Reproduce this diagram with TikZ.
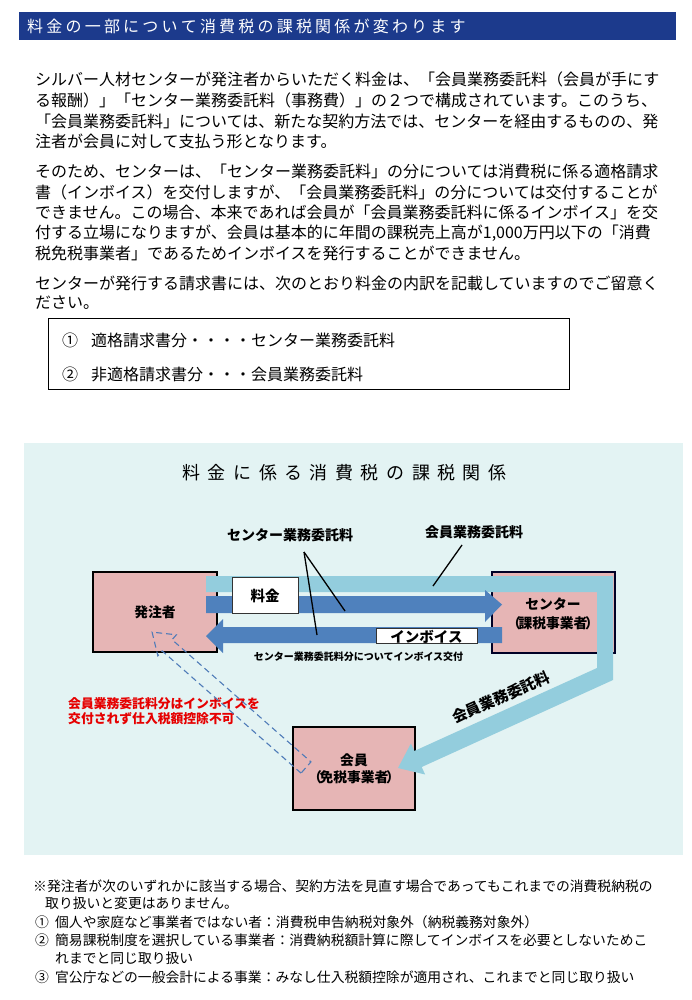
\documentclass[tikz,border=0pt]{standalone}
\usepackage{fontspec}
\setmainfont{Noto Sans CJK JP}
\usetikzlibrary{calc}
\definecolor{navy}{HTML}{1C3A8C}
\definecolor{bgcyan}{HTML}{E3F3F3}
\definecolor{pinkbox}{HTML}{E6B5B5}
\definecolor{darkarrow}{HTML}{4F81BD}
\definecolor{lightarrow}{HTML}{93CDDD}
\definecolor{redtext}{HTML}{E60000}
\definecolor{dashblue}{HTML}{4F7BB8}
\makeatletter
\newcommand\spacedtext[2]{\def\sp@k{#1}\sp@first#2\relax}
\def\sp@first#1{\ifx\relax#1\else#1\expandafter\sp@next\fi}
\def\sp@next#1{\ifx\relax#1\else\kern\sp@k\relax#1\expandafter\sp@next\fi}
\makeatother
\begin{document}
\begin{tikzpicture}[x=1pt,y=-1pt,
  body/.style={anchor=west, inner sep=0pt, font=\fontsize{16}{16}\selectfont},
  foot/.style={anchor=west, inner sep=0pt, font=\fontsize{13.8}{14}\selectfont},
  party/.style={draw=black, line width=1.6pt, fill=pinkbox, align=center, inner sep=0pt,
    font=\bfseries\fontsize{13.8}{17}\selectfont},
  lbl/.style={inner sep=0pt, font=\bfseries\fontsize{14}{14}\selectfont},
  tag/.style={fill=white, draw=black!80, line width=0.8pt, inner sep=0pt},
  pointer/.style={draw=black, line width=1.3pt},
]
\useasboundingbox (0,0) rectangle (692,1000);
\fill[white] (0,0) rectangle (692,1000);

% header
\node[fill=navy, anchor=north west, minimum width=657pt, minimum height=28pt, inner sep=0pt] (header) at (19,12) {};
\node[anchor=west, inner sep=0pt, text=white, font=\fontsize{16}{16}\selectfont] (htitle) at (27,26.5)
  {\spacedtext{3.2pt}{料金の一部について消費税の課税関係が変わります}};

% paragraph 1
\node[body] (p1a) at (35,79) {シルバー人材センターが発注者からいただく料金は、「会員業務委託料（会員が手にす};
\node[body] (p1b) at (35,100) {る報酬）」「センター業務委託料（事務費）」の２つで構成されています。このうち、};
\node[body] (p1c) at (35,121) {「会員業務委託料」については、新たな契約方法では、センターを経由するものの、発};
\node[body] (p1d) at (35,141.5) {注者が会員に対して支払う形となります。};
% paragraph 2
\node[body] (p2a) at (35,171.5) {そのため、センターは、「センター業務委託料」の分については消費税に係る適格請求};
\node[body] (p2b) at (35,192) {書（インボイス）を交付しますが、「会員業務委託料」の分については交付することが};
\node[body] (p2c) at (35,212.5) {できません。この場合、本来であれば会員が「会員業務委託料に係るインボイス」を交};
\node[body] (p2d) at (35,233) {付する立場になりますが、会員は基本的に年間の課税売上高が1,000万円以下の「消費};
\node[body] (p2e) at (35,253.5) {税免税事業者」であるためインボイスを発行することができません。};
% paragraph 3
\node[body] (p3a) at (35,283.5) {センターが発行する請求書には、次のとおり料金の内訳を記載していますのでご留意く};
\node[body] (p3b) at (35,303) {ださい。};

% note box
\node[draw=black, line width=1.4pt, anchor=north west, minimum width=521pt, minimum height=71pt, inner sep=0pt] (notebox) at (47.5,318) {};
\node[body] (item1) at (62,340) {①\kern13pt 適格請求書分・・・・センター業務委託料};
\node[body] (item2) at (62,374.5) {②\kern13pt 非適格請求書分・・・会員業務委託料};

% diagram background
\fill[bgcyan] (24,443) rectangle (683,855);
\node[inner sep=0pt, font=\fontsize{18}{18}\selectfont] (dtitle) at (344.5,473)
  {\spacedtext{7.5pt}{料金に係る消費税の課税関係}};

% parties
\node[party, minimum width=124pt, minimum height=80pt] (client) at (155,612) {発注者};
\node[party, draw=black!85!blue, minimum width=123pt, minimum height=81pt] (center) at (553.5,612.5) {};
\node[party, minimum width=122pt, minimum height=83pt] (member) at (354,768.5) {};

% light blue band (member fee)
\fill[lightarrow] (206,576) -- (613,576) -- (613,680) -- (421.7,767) -- (425.1,774.5)
  -- (398,768) -- (410.9,743.5) -- (414.3,751) -- (597,668) -- (597,592) -- (206,592) -- cycle;

% dark blue arrows
\fill[darkarrow] (206,596) -- (485,596) -- (485,590) -- (502,604.5) -- (485,622) -- (485,613) -- (206,613) -- cycle;
\fill[darkarrow] (502,627) -- (223,627) -- (223,619) -- (206,636) -- (223,653) -- (223,643) -- (502,643) -- cycle;

% white tags
\node[tag, minimum width=66pt, minimum height=36pt] (feetag) at (265,595) {};
\node[lbl, font=\bfseries\fontsize{14.5}{14.5}\selectfont] (feetext) at (265,596) {料金};
\node[tag, minimum width=101pt, minimum height=15pt] (invtag) at (426.5,635.5) {};
\node[lbl, font=\bfseries\fontsize{14.5}{14.5}\selectfont] (invtext) at (426.5,637) {インボイス};

% box texts
\node[inner sep=0pt, align=center, font=\bfseries\fontsize{13.8}{19}\selectfont] (centertext) at (553,613.5)
  {センター\\\kern-3pt（\kern-2.5pt 課税事業者\kern-2.5pt）\kern-3pt};
\node[inner sep=0pt, align=center, font=\bfseries\fontsize{13.8}{17}\selectfont] (membertext) at (354,768.5)
  {会員\\\kern-3pt（\kern-2.5pt 免税事業者\kern-2.5pt）\kern-3pt};

% labels and pointers
\node[lbl] (clabel) at (290,535) {センター業務委託料};
\node[lbl] (mlabel) at (474,532) {会員業務委託料};
\coordinate (capex) at (304,552);
\coordinate (cfee) at (345,611);
\coordinate (cinv) at (317,635);
\coordinate (mfrom) at (462,545);
\coordinate (mto) at (433,586);
\draw[pointer] (capex) -- (cfee);
\draw[pointer] (capex) -- (cinv);
\draw[pointer] (mfrom) -- (mto);

\node[inner sep=0pt, font=\bfseries\fontsize{10}{10}\selectfont] (caption) at (358.5,657) {センター業務委託料分についてインボイス交付};

\node[inner sep=0pt, rotate=23.5, font=\bfseries\fontsize{15}{15}\selectfont] (diaglabel) at (501,697.5) {会員業務委託料};

\node[anchor=north west, inner sep=0pt, align=left, text=redtext, font=\bfseries\fontsize{12.8}{15}\selectfont] (redtext) at (68,697)
  {会員業務委託料分はインボイスを\\交付されず仕入税額控除不可};

% dashed hollow arrow from member to client
\begin{scope}[shift={(306,767.5)}, rotate=138.66]
  \draw[dashblue, line width=1.1pt, dash pattern=on 6pt off 4pt, line join=miter]
    (0,-7.5) -- (185,-7.5) -- (185,-14) -- (205,0) -- (185,14) -- (185,7.5) -- (0,7.5) -- cycle;
\end{scope}

% footnotes
\node[foot] (f1) at (33,886) {※発注者が次のいずれかに該当する場合、契約方法を見直す場合であってもこれまでの消費税納税の};
\node[foot] (f2) at (45,903.5) {取り扱いと変更はありません。};
\node[foot] (f3) at (35,922) {①\kern6.2pt 個人や家庭など事業者ではない者：消費税申告納税対象外（納税義務対象外）};
\node[foot] (f4) at (35,940) {②\kern6.2pt 簡易課税制度を選択している事業者：消費納税額計算に際してインボイスを必要としないためこ};
\node[foot] (f5) at (55,958) {れまでと同じ取り扱い};
\node[foot] (f6) at (35,977) {③\kern6.2pt 官公庁などの一般会計による事業：みなし仕入税額控除が適用され、これまでと同じ取り扱い};
\end{tikzpicture}
\end{document}
